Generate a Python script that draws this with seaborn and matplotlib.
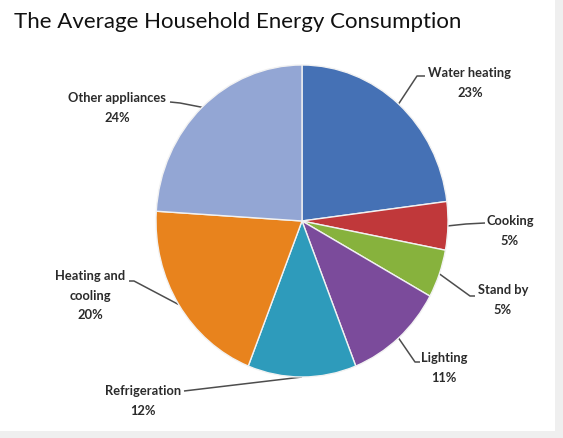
import numpy as np
import seaborn as sns
import matplotlib.pyplot as plt
from matplotlib.patches import Rectangle

# values (percent)
categories = ["Water heating", "Cooking", "Stand by", "Lighting",
              "Refrigeration", "Heating and\ncooling", "Other appliances"]
shares = [23, 5, 5, 11, 12, 20, 24]
slice_colors = ["#4571b5", "#c0383a", "#87b23d", "#7b4b9b",
                "#2e9bbb", "#e8831d", "#93a6d4"]

sns.set_theme(style="white")
plt.rcParams["font.family"] = ["Lato", "DejaVu Sans"]

W, H = 563, 439
fig = plt.figure(figsize=(W / 100, H / 100), dpi=100)
fig.patch.set_facecolor("#efefef")

# overlay axes in pixel coordinates for title, labels and leader lines
over = fig.add_axes([0, 0, 1, 1])
over.set_xlim(0, W)
over.set_ylim(H, 0)
over.axis("off")
over.add_patch(Rectangle((0, 0), 555, 432, facecolor="white", edgecolor="none", zorder=0))

# pie sits in a slightly taller-than-wide box, like the picture
cx, cy, rx, ry = 302, 222, 146, 156
pie_ax = fig.add_axes([(cx - rx) / W, 1 - (cy + ry) / H, 2 * rx / W, 2 * ry / H])
pie_ax.pie(shares, colors=slice_colors, startangle=90, counterclock=False,
           wedgeprops=dict(edgecolor="#f2f2f2", linewidth=1.0))
pie_ax.set_aspect("auto")
pie_ax.set_xlim(-1, 1)
pie_ax.set_ylim(-1, 1)
pie_ax.axis("off")

over.text(14, 22, "The Average Household Energy Consumption", fontsize=16,
          color="#111111", ha="left", va="center")

# label block centre, elbow point, line end (pixels)
layout = [
    ((470, 83), (417, 77), (425, 77)),
    ((510, 231), (466, 225), (485, 224)),
    ((503, 300), (470, 297), (475, 297)),
    ((444, 368), (415, 363), (420, 363)),
    ((143, 401), (184, 392), (184, 392)),
    ((90, 296), (134, 282), (129, 282)),
    ((117, 108), (180, 104), (170, 103)),
]

total = sum(shares)
cum = np.cumsum([0] + shares)
for name, val, c0, c1, (lab, elbow, end) in zip(categories, shares, cum[:-1], cum[1:], layout):
    mid = np.deg2rad(90 - 360 * (c0 + c1) / 2 / total)
    sx = cx + rx * np.cos(mid)
    sy = cy - ry * np.sin(mid)
    over.plot([sx, elbow[0], end[0]], [sy, elbow[1], end[1]], color="#4d4d4d", lw=1.1,
              solid_capstyle="butt")
    over.text(lab[0], lab[1], f"{name}\n{val}%", ha="center", va="center",
              fontsize=9.3, fontweight="bold", color="#2b2b2b", linespacing=1.75)

fig.savefig("out.png", dpi=100)
